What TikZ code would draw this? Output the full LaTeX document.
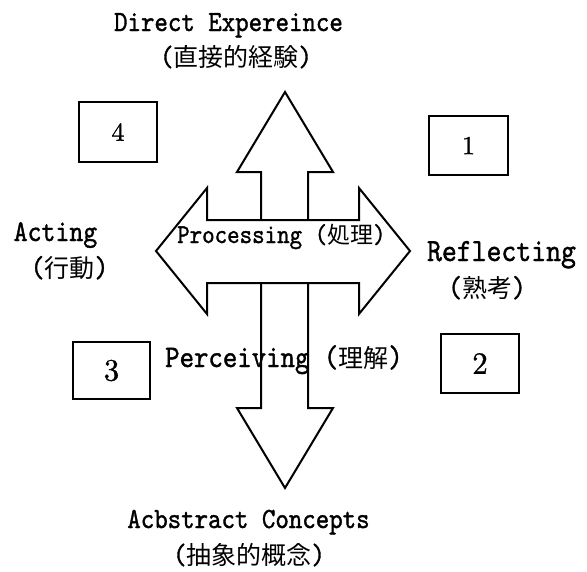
\documentclass[tikz,border=0pt]{standalone}
\usepackage{fontspec}
\newfontfamily\mono[FakeStretch=0.875,FakeBold=1.2]{lmmono10-regular.otf}
\newfontfamily\cjk{Noto Sans CJK JP}
\newfontfamily\num[FakeBold=1]{lmroman10-regular.otf}
\newcommand\fs[1]{\fontsize{#1}{#1}\selectfont}
\begin{document}
\begin{tikzpicture}[x=1pt,y=-1pt,
  arrowshape/.style={line width=2pt,line join=miter},
  numbox/.style={draw,line width=1.8pt,inner sep=0pt,font=\num},
  lbl/.style={inner sep=0pt,anchor=base}]
\useasboundingbox (0,0) rectangle (587,571);
% arrows
\draw[arrowshape] (261,220) -- (261,172) -- (237,172) -- (285,92) -- (333,172) -- (308,172) -- (308,220);
\draw[arrowshape] (207,220) -- (207,188) -- (156,251) -- (207,314) -- (207,283) -- (359,283) -- (359,314) -- (410,251) -- (359,188) -- (359,220) -- cycle;
\draw[arrowshape] (261,283) -- (261,408) -- (237,408) -- (285,488) -- (333,408) -- (308,408) -- (308,283);
% boxes
\node[numbox,minimum width=78pt,minimum height=60pt] (b4) at (118,132) {\fs{26}4};
\node[numbox,minimum width=79pt,minimum height=59pt] (b1) at (468.5,145.5) {\fs{26}1};
\node[numbox,minimum width=77pt,minimum height=57pt] (b3) at (111.5,370.5) {\fs{31}3};
\node[numbox,minimum width=78pt,minimum height=59pt] (b2) at (480,363.5) {\fs{31}2};
% labels
\node[lbl] (de) at (228.5,31) {\mono\fs{29.3}Direct Expereince};
\node[lbl] (dej) at (236,66) {\mono\fs{29.3}(\cjk\fs{25}直接的経験\mono\fs{29.3})};
\node[lbl] (ac) at (248.5,528) {\mono\fs{29.3}Acbstract Concepts};
\node[lbl] (acj) at (249,564) {\mono\fs{29.3}(\cjk\fs{25}抽象的概念\mono\fs{29.3})};
\node[lbl] (act) at (55.5,241) {\mono\fs{30.3}Acting};
\node[lbl] (actj) at (69.5,277) {\mono\fs{30.3}(\cjk\fs{25}行動\mono\fs{30.3})};
\node[lbl] (ref) at (501.5,261) {\mono\fs{32.4}Reflecting};
\node[lbl] (refj) at (487,297) {\mono\fs{30.3}(\cjk\fs{25}熟考\mono\fs{30.3})};
\node[lbl,anchor=base west] (proc) at (177,243) {\mono\fs{27.2}Processing (\cjk\fs{23}処理\mono\fs{27.2})};
\node[lbl,anchor=base west] (perc) at (165,367) {\mono\fs{31.4}Perceiving (\cjk\fs{25}理解\mono\fs{31.4})};
\end{tikzpicture}
\end{document}
